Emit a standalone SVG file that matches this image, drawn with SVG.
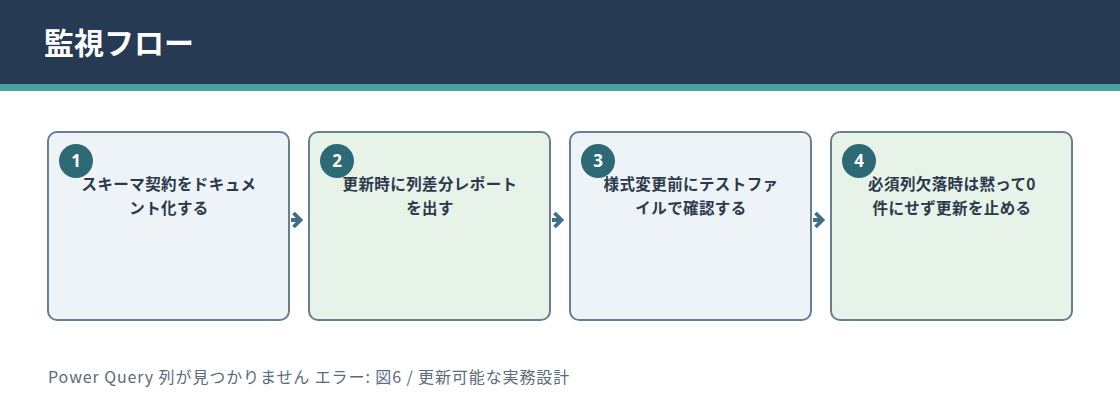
<svg xmlns="http://www.w3.org/2000/svg" width="1120" height="420" viewBox="0 0 1120 420">
<style>
.box{stroke:#687f90;stroke-width:2}
.b1{fill:#eef3f8}
.b2{fill:#e7f2e8}
.num{fill:#2e6a76}
.numt{fill:#fff;font-family:"Noto Sans","Noto Sans CJK JP",sans-serif;font-weight:700;font-size:17px;text-anchor:middle}
.lbl{fill:#2b3a4b;font-family:"Noto Sans CJK JP",sans-serif;font-weight:700;font-size:15.5px;letter-spacing:0.4px;text-anchor:middle}
.arr{fill:none;stroke:#3f6f86;stroke-width:3.8;stroke-linejoin:miter}
</style>
<rect x="0" y="0" width="1120" height="84" fill="#263a53"/>
<rect x="0" y="84" width="1120" height="7" fill="#48a39a"/>
<text x="44" y="54" fill="#fff" font-family="Noto Sans CJK JP, sans-serif" font-weight="700" font-size="30">監視フロー</text>
<g id="connectors">
<path class="arr" d="M291 220H299M293.5 213L300.5 220L293.5 227"/>
<path class="arr" d="M552 220H560M554.5 213L561.5 220L554.5 227"/>
<path class="arr" d="M813 220H821M815.5 213L822.5 220L815.5 227"/>
</g>
<g id="step1">
<rect class="box b1" x="48" y="132" width="241" height="188" rx="9"/>
<circle class="num" cx="76" cy="161" r="17"/>
<text class="numt" x="76" y="167">1</text>
<text class="lbl" x="169" y="190">スキーマ契約をドキュメ</text>
<text class="lbl" x="169" y="214">ント化する</text>
</g>
<g id="step2">
<rect class="box b2" x="309" y="132" width="241" height="188" rx="9"/>
<circle class="num" cx="337" cy="161" r="17"/>
<text class="numt" x="337" y="167">2</text>
<text class="lbl" x="430" y="190">更新時に列差分レポート</text>
<text class="lbl" x="430" y="214">を出す</text>
</g>
<g id="step3">
<rect class="box b1" x="570" y="132" width="241" height="188" rx="9"/>
<circle class="num" cx="598" cy="161" r="17"/>
<text class="numt" x="598" y="167">3</text>
<text class="lbl" x="691" y="190">様式変更前にテストファ</text>
<text class="lbl" x="691" y="214">イルで確認する</text>
</g>
<g id="step4">
<rect class="box b2" x="831" y="132" width="241" height="188" rx="9"/>
<circle class="num" cx="859" cy="161" r="17"/>
<text class="numt" x="859" y="167">4</text>
<text class="lbl" x="952" y="190">必須列欠落時は黙って0</text>
<text class="lbl" x="952" y="214">件にせず更新を止める</text>
</g>
<text x="48" y="383" fill="#5b6b7b" font-family="Noto Sans CJK JP, sans-serif" font-size="16" letter-spacing="0.9">Power Query 列が見つかりません エラー: 図6 / 更新可能な実務設計</text>
</svg>
